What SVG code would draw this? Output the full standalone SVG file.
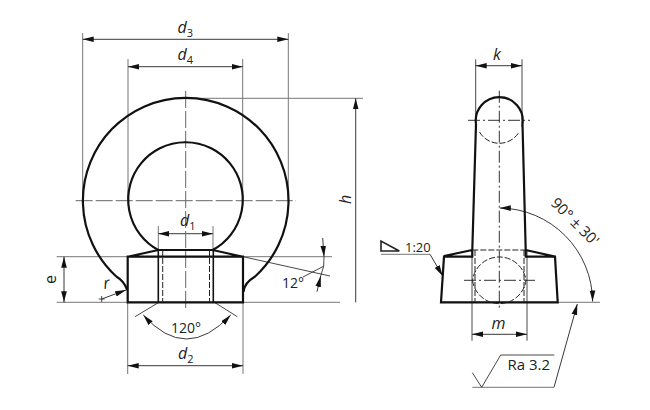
<svg xmlns="http://www.w3.org/2000/svg" width="650" height="410" viewBox="0 0 650 410">
<style>
text{font-family:"Open Sans","Noto Sans",sans-serif;fill:#222;font-size:14px}
.i{font-style:italic;font-size:16px}
.s{font-size:11px;font-style:normal}
.o{fill:none;stroke:#111;stroke-width:2.2}
.t{fill:none;stroke:#333;stroke-width:.9}
.g{fill:none;stroke:#777;stroke-width:1}
.c{fill:none;stroke:#666;stroke-width:1;stroke-dasharray:17 3}
.cd{fill:none;stroke:#333;stroke-width:1;stroke-dasharray:12 3 2 3}
.h{fill:none;stroke:#222;stroke-width:1;stroke-dasharray:6 2}
.d{fill:none;stroke:#222;stroke-width:.9;marker-start:url(#a);marker-end:url(#a)}
.e{fill:none;stroke:#222;stroke-width:.9;marker-end:url(#a)}
</style>
<defs>
<marker id="a" markerUnits="userSpaceOnUse" markerWidth="12" markerHeight="7" refX="11" refY="3.5" orient="auto-start-reverse"><path d="M0 .7L11 3.5L0 6.3Z" fill="#111"/></marker>
</defs>
<rect width="650" height="410" fill="#fff"/>
<g id="connectors">
<path class="g" d="M82.7 33V200M288.3 33V200M128 59V200M242.7 59V200M186 98.3H363M56.7 256.7H332M56.7 302.3H340M158.3 226V250M213 226V250M127.7 302V374M243 302V374M441 302.3H600"/>
<path class="d" d="M82.7 39.3H288.3"/>
<path class="d" d="M128 66.7H242.7"/>
<path class="d" d="M158.3 233.7H213"/>
<path class="d" d="M127.7 365.7H243"/>
<path class="d" d="M64 256.7V302.3"/>
<path class="e" d="M355.7 302.3V98.3"/>
<path class="e" d="M101.7 299L126 290"/>
<path class="t" d="M98.7 299H104.7M101.7 296V302"/>
<path class="t" d="M243 256.7L330 276M303 277L324 266M158.3 302.7L135 316.7M215 302.7L237.3 316.7"/>
<path class="e" d="M322.7 238L324 256.7"/>
<path class="e" d="M317 291.7L320.7 276"/>
<path class="t" d="M324 256.7Q325 266 320.7 276"/>
<path class="d" d="M143.3 315Q186 363 230.7 315"/>
<path class="t" d="M475.7 59.3V127M522 59.3V127M472 250V340.7M527 250V340.7"/>
<path class="d" d="M475.7 65.7H522"/>
<path class="d" d="M472 334.3H527"/>
<path class="d" d="M499.8 208A94 94 0 0 1 592.6 301.5"/>
<path class="g" d="M381 254.3H430"/>
<path class="e" d="M430 254.3L442.7 276"/>
<path class="g" d="M472.3 387.3H554"/>
<path class="e" d="M554 387.3L577.3 304"/>
<path class="t" d="M472.3 372.7L481.7 387.3L500.7 355H554.3"/>
</g>
<g id="front-view">
<path class="c" d="M185.7 91V309M75.7 200.7H296"/>
<path class="o" d="M116.3 276.5A102.8 102.8 0 1 1 255.1 276.5Q244 283 243.5 292M116.3 276.5Q124 281 127.3 290"/>
<path class="o" d="M158.3 250A57.3 57.3 0 1 1 212.7 250"/>
<path class="o" d="M127.7 302.3V256.7H243V302.3ZM127.7 256.7L158.3 250H212.7L243 256.7"/>
<path class="o" style="stroke-width:1.6" d="M158.3 250V302M213.3 250V302"/>
<path class="h" d="M162.7 250V302M209.5 250V302"/>
</g>
<g id="side-view">
<path class="cd" d="M499.3 90.7V310M464 280.3H535M468 120.3H530"/>
<path class="o" d="M476 124A23.5 23.5 0 1 1 522.5 124L525.7 250V256.7H555L557.7 302.3H441L444 256.7H472.3V250L476 124M444 256L472.3 250M525.7 250L555 256.5"/>
<path class="h" d="M479.5 132A23 23 0 0 0 519.1 132M472.3 250H525.7M472.5 280.3A27 27 0 0 0 526 280.3A27 27 0 0 0 472.5 280.3M475 250V302M524 250V302"/>
</g>
<path id="taper" fill="none" stroke="#222" stroke-width="1.6" d="M381 241V251H399.3Z"/>
<g id="labels">
<text class="i" x="177.5" y="33">d<tspan class="s" dy="4">3</tspan></text>
<text class="i" x="177.5" y="60">d<tspan class="s" dy="4">4</tspan></text>
<text class="i" x="180" y="226">d<tspan class="s" dy="4">1</tspan></text>
<text class="i" x="178" y="359">d<tspan class="s" dy="4">2</tspan></text>
<text class="i" x="493" y="60">k</text>
<text class="i" x="491.5" y="329">m</text>
<text class="i" transform="translate(351 204) rotate(-90)">h</text>
<text class="i" style="font-style:normal" transform="translate(56 284) rotate(-90)">e</text>
<text class="i" transform="translate(104 289) rotate(-8)">r</text>
<text x="171" y="333">120°</text>
<text x="282" y="288">12°</text>
<text x="405" y="252" style="font-size:13px">1:20</text>
<text x="507.5" y="370" style="font-size:15px">Ra 3.2</text>
<text transform="translate(550 204) rotate(45)" style="font-size:15px">90° ± 30'</text>
</g>
</svg>
